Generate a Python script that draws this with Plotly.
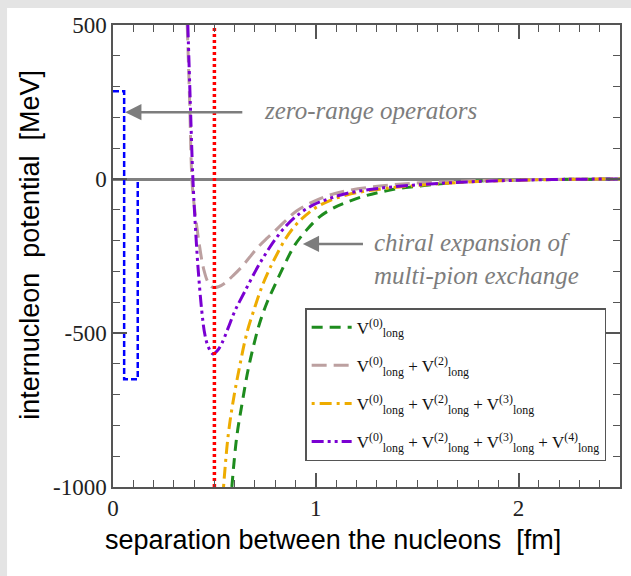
import plotly.graph_objects as go

# ---------------- data ----------------
r_v0 = [0.586, 0.61, 0.637, 0.666, 0.704, 0.728, 0.76, 0.80, 0.85, 0.897, 0.954, 1.02,
        1.085, 1.151, 1.232, 1.315, 1.397, 1.478, 1.644, 1.773, 2.0, 2.25, 2.5]
v_v0 = [-1000, -838, -727, -620, -513, -458, -400, -342, -272, -214, -166, -122,
        -95, -76, -57, -43, -32, -25, -14, -7, -3, -1, 0]

r_v02 = [0.366, 0.378, 0.389, 0.399, 0.425, 0.448, 0.47, 0.493, 0.52, 0.552, 0.59, 0.635,
         0.714, 0.76, 0.80, 0.85, 0.905, 0.985, 1.069, 1.151, 1.315, 1.478, 1.644, 1.8,
         2.0, 2.25, 2.5]
v_v02 = [500, 250, 0, -78, -210, -295, -337, -352, -350, -338, -315, -285,
         -222, -192, -168, -136, -104, -74, -52, -38, -23, -14, -9, -5,
         -3, -1, 0]

r_v023 = [0.545, 0.567, 0.591, 0.621, 0.660, 0.70, 0.734, 0.77, 0.80, 0.85, 0.90, 0.95,
          1.0, 1.069, 1.151, 1.232, 1.315, 1.478, 1.644, 1.8, 2.0, 2.25, 2.5]
v_v023 = [-1000, -838, -727, -620, -500, -415, -350, -295, -255, -195, -150, -118,
          -93, -70, -52, -41, -33, -22, -14, -8, -4, -1, 0]

r_v0234 = [0.369, 0.381, 0.394, 0.405, 0.419, 0.438, 0.453, 0.47, 0.493, 0.515, 0.537,
           0.567, 0.60, 0.65, 0.714, 0.76, 0.80, 0.85, 0.905, 0.985, 1.069, 1.151,
           1.315, 1.478, 1.644, 1.8, 2.0, 2.25, 2.5]
v_v0234 = [500, 250, 0, -140, -285, -430, -505, -545, -568, -557, -533,
           -485, -430, -365, -285, -235, -196, -155, -120, -85, -63, -47,
           -30, -20, -13, -8, -4, -1, 0]

# zero-range operators box (blue dashed)
r_contact = [0.0, 0.055, 0.055, 0.122, 0.122]
v_contact = [285, 285, -650, -650, 0]

# cutoff marker (red dotted)
r_cut = [0.5, 0.5]
v_cut = [-1000, 500]

x_tickvals = [0, 1, 2]
x_ticktext = ["0", "1", "2"]
y_tickvals = [-1000, -500, 0, 500]
y_ticktext = ["-1000", "-500", "0", "500"]

names = [
    "V<sup>(0)</sup><sub>long</sub>",
    "V<sup>(0)</sup><sub>long</sub> + V<sup>(2)</sup><sub>long</sub>",
    "V<sup>(0)</sup><sub>long</sub> + V<sup>(2)</sup><sub>long</sub> + V<sup>(3)</sup><sub>long</sub>",
    "V<sup>(0)</sup><sub>long</sub> + V<sup>(2)</sup><sub>long</sub> + V<sup>(3)</sup><sub>long</sub> + V<sup>(4)</sup><sub>long</sub>",
]

# ---------------- figure ----------------
fig = go.Figure()

fig.add_trace(go.Scatter(x=r_contact, y=v_contact, mode="lines", showlegend=False,
                         line=dict(color="#0000ff", width=2.5, dash="6px,3px")))

fig.add_trace(go.Scatter(x=r_v0, y=v_v0, mode="lines", name=names[0], legendgroup="g0",
                         line=dict(color="#1e8c1e", width=3, dash="11px,7px", shape="spline")))
fig.add_trace(go.Scatter(x=r_v02, y=v_v02, mode="lines", name=names[1], legendgroup="g1",
                         line=dict(color="#bca0a0", width=3, dash="15px,7px", shape="spline")))
fig.add_trace(go.Scatter(x=r_v023, y=v_v023, mode="lines", name=names[2], legendgroup="g2",
                         line=dict(color="#eeac00", width=3, dash="3px,5px,12px,5px", shape="spline")))
fig.add_trace(go.Scatter(x=r_v0234, y=v_v0234, mode="lines", name=names[3], legendgroup="g3",
                         line=dict(color="#7a00d2", width=3, dash="12px,4px,3px,4px,3px,4px",
                                   shape="spline")))

fig.add_trace(go.Scatter(x=r_cut, y=v_cut, mode="lines", showlegend=False,
                         line=dict(color="#ff0000", width=3.5, dash="3px,3px")))

axis_common = dict(
    showgrid=False, showline=True, linecolor="#555555", linewidth=1.5,
    mirror="allticks", ticks="inside", tickcolor="#555555", tickwidth=1.5, ticklen=14,
    tickfont=dict(family="Liberation Serif", size=23, color="#222222"),
    automargin=False,
)

fig.update_xaxes(range=[0, 2.5], tickmode="array", tickvals=x_tickvals, ticktext=x_ticktext,
                 minor=dict(dtick=0.1, ticks="inside", ticklen=7, tickwidth=1.2, tickcolor="#555555"),
                 zeroline=False, **axis_common)
fig.update_yaxes(range=[-1000, 500], tickmode="array", tickvals=y_tickvals, ticktext=y_ticktext,
                 minor=dict(dtick=100, ticks="inside", ticklen=7, tickwidth=1.2, tickcolor="#555555"),
                 zeroline=True, zerolinecolor="#808080", zerolinewidth=2.5, **axis_common)

grey = "#7d7d7d"
annot_font = dict(family="Liberation Serif", size=25, color=grey)

fig.add_annotation(x=0.734, y=224, xref="x", yref="y", text="<i>zero-range operators</i>",
                   showarrow=False, xanchor="left", yanchor="middle", font=annot_font)
fig.add_annotation(x=0.06, y=217, ax=0.645, ay=217, xref="x", yref="y", axref="x", ayref="y",
                   text="", showarrow=True, arrowhead=2, arrowsize=1.3, arrowwidth=2.5,
                   arrowcolor=grey)

fig.add_annotation(x=1.275, y=-260, xref="x", yref="y",
                   text="<i>chiral expansion of</i><br><i>multi-pion exchange</i>",
                   showarrow=False, xanchor="left", yanchor="middle", align="left", font=annot_font)
fig.add_annotation(x=0.936, y=-211, ax=1.24, ay=-211, xref="x", yref="y", axref="x", ayref="y",
                   text="", showarrow=True, arrowhead=2, arrowsize=1.3, arrowwidth=2.5,
                   arrowcolor=grey)

# axis titles
fig.add_annotation(x=0.434, y=-0.115, xref="paper", yref="paper", xanchor="center", yanchor="middle",
                   text="separation between the nucleons &nbsp;[fm]", showarrow=False,
                   font=dict(family="Liberation Sans", size=27, color="#000000"))
fig.add_annotation(x=-0.164, y=0.524, xref="paper", yref="paper", xanchor="center", yanchor="middle",
                   textangle=-90,
                   text="internucleon &nbsp;potential &nbsp;[MeV]", showarrow=False,
                   font=dict(family="Liberation Sans", size=27, color="#000000"))

# white card over a light grey page
fig.add_shape(type="rect", xref="paper", yref="paper", x0=-0.209, x1=1.1, y0=-0.3, y1=1.0368,
              fillcolor="white", line=dict(width=0), layer="below")

fig.update_layout(
    width=631, height=576,
    margin=dict(l=113, r=11, t=25, b=89, autoexpand=False),
    paper_bgcolor="#e4e4e4", plot_bgcolor="white",
    legend=dict(x=0.379, y=0.387, xanchor="left", yanchor="top",
                bgcolor="white", bordercolor="#555555", borderwidth=1.5,
                font=dict(family="Liberation Serif", size=17, color="#111111"),
                itemwidth=40, tracegroupgap=13),
    showlegend=True,
)

fig.write_html("out.html", config={"displayModeBar": False},
               post_script="document.body.style.margin='0px';document.body.style.overflow='hidden';")
